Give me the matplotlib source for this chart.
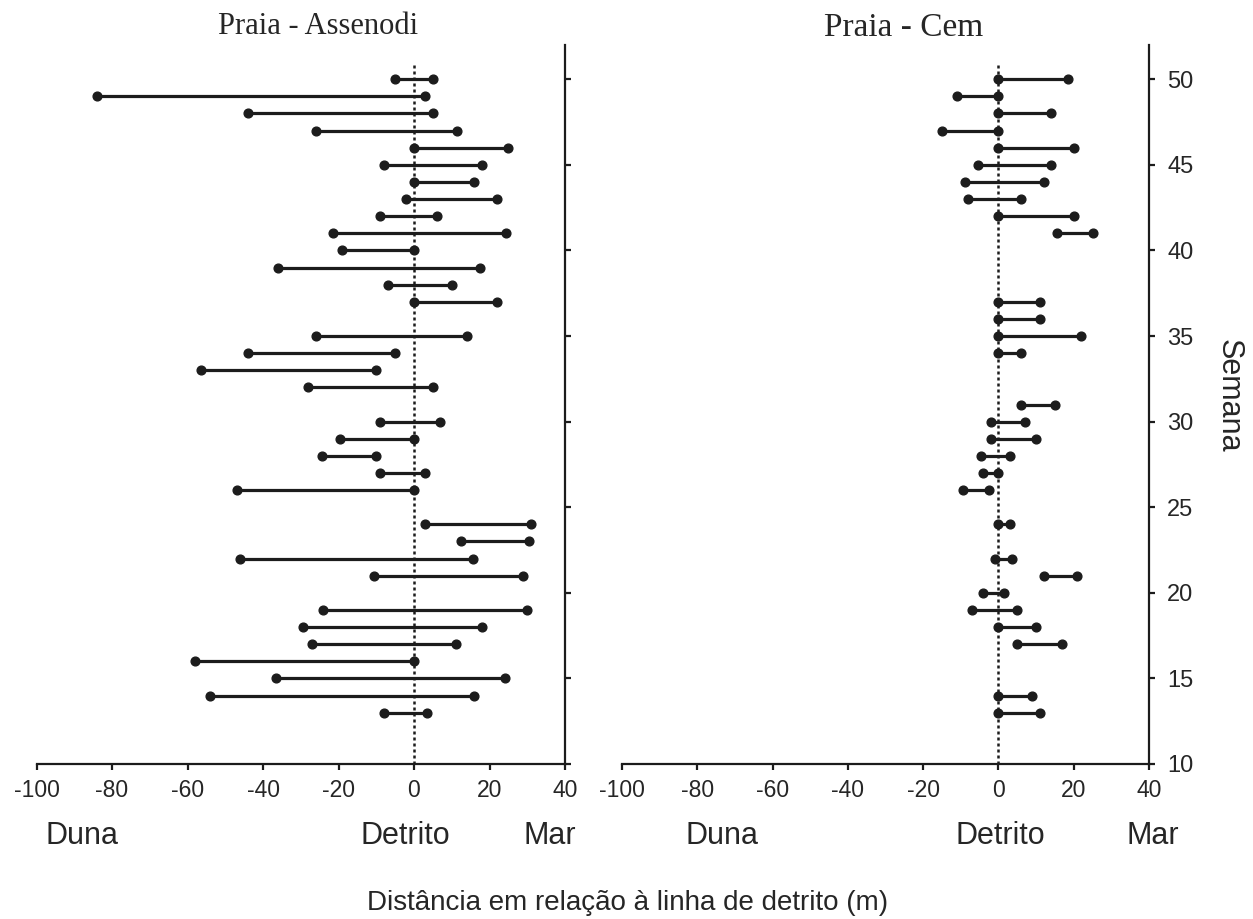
import matplotlib
matplotlib.use("Agg")
import matplotlib.pyplot as plt

# Weekly range of the wrack line relative to the reference detritus line (m)
weeks_assenodi = [50, 49, 48, 47, 46, 45, 44, 43, 42, 41, 40, 39, 38, 37,
                  35, 34, 33, 32, 30, 29, 28, 27, 26, 24, 23, 22, 21,
                  19, 18, 17, 16, 15, 14, 13]
start_assenodi = [-5, -84, -44, -26, 0, -8, 0, -2, -9, -21.5, -19, -36, -7, 0,
                  -26, -44, -56.5, -28, -9, -19.5, -24.5, -9, -47, 3, 12.5, -46, -10.5,
                  -24, -29.5, -27, -58, -36.5, -54, -8]
end_assenodi = [5, 3, 5, 11.5, 25, 18, 16, 22, 6, 24.5, 0, 17.5, 10, 22,
                14, -5, -10, 5, 7, 0, -10, 3, 0, 31, 30.5, 15.5, 29,
                30, 18, 11, 0, 24, 16, 3.5]

weeks_cem = [50, 49, 48, 47, 46, 45, 44, 43, 42, 41, 37, 36, 35, 34,
             31, 30, 29, 28, 27, 26, 24, 22, 21, 20, 19, 18, 17, 14, 13]
start_cem = [0, -11, 0, -15, 0, -5.5, -9, -8, 0, 15.5, 0, 0, 0, 0,
             6, -2, -2, -4.5, -4, -9.5, 0, -1, 12, -4, -7, 0, 5, 0, 0]
end_cem = [18.5, 0, 14, 0, 20, 14, 12, 6, 20, 25, 11, 11, 22, 6,
           15, 7, 10, 3, 0, -2.5, 3, 3.5, 21, 1.5, 5, 10, 17, 9, 11]

panel_titles = ["Praia - Assenodi", "Praia - Cem"]
x_ticks = [-100, -80, -60, -40, -20, 0, 20, 40]
y_ticks = [10, 15, 20, 25, 30, 35, 40, 45, 50]
zone_labels = ["Duna", "Detrito", "Mar"]
x_label = "Distância em relação à linha de detrito (m)"
y_label = "Semana"

INK = "#1c1c1c"
TXT = "#262626"
SANS = ["Liberation Sans", "DejaVu Sans"]
SERIF = ["Liberation Serif", "DejaVu Serif"]

plt.rcParams["font.family"] = SANS

W, H = 1253, 919
fig = plt.figure(figsize=(W / 100, H / 100), dpi=100)


def fx(px):
    return px / W


def fy(py):
    return 1 - py / H


ax_top, ax_bottom = 45, 764
ax_l = fig.add_axes([fx(36.5), fy(ax_bottom), fx(565 - 36.5), (ax_bottom - ax_top) / H])
ax_r = fig.add_axes([fx(622), fy(ax_bottom), fx(1149 - 622), (ax_bottom - ax_top) / H])

datasets = [(ax_l, weeks_assenodi, start_assenodi, end_assenodi),
            (ax_r, weeks_cem, start_cem, end_cem)]

for i, (ax, wk, s, e) in enumerate(datasets):
    ax.vlines(0, 10, 51, colors=INK, linestyles=(0, (1.2, 1.2)), linewidth=1.8, zorder=1)
    for w, a, b in zip(wk, s, e):
        ax.plot([a, b], [w, w], color=INK, linewidth=2.3, solid_capstyle="butt",
                marker="o", markersize=6.3, markerfacecolor=INK,
                markeredgecolor=INK, zorder=3)
    ax.set_xlim(-100, 40)
    ax.set_ylim(10, 52)
    ax.spines["top"].set_visible(False)
    ax.spines["left"].set_visible(False)
    for sp in ("bottom", "right"):
        ax.spines[sp].set_linewidth(1.6)
        ax.spines[sp].set_color(INK)
    ax.yaxis.tick_right()
    ax.set_xticks(x_ticks)
    ax.set_xticklabels([str(t) for t in x_ticks])
    ax.set_yticks(y_ticks)
    ax.tick_params(axis="x", direction="out", length=4, width=1.6, color=INK,
                   labelsize=16.5, labelcolor=TXT, pad=7)
    ax.tick_params(axis="y", direction="out", length=4, width=1.6, color=INK,
                   labelsize=17, labelcolor=TXT, pad=9)
    if i == 0:
        ax.tick_params(axis="y", labelright=False)
    else:
        ax.set_yticklabels([str(t) for t in y_ticks])
    ax.patch.set_alpha(0)

# Panel titles
fig.text(fx(318), fy(27), panel_titles[0], family=SERIF, fontsize=22,
         color=TXT, ha="center", va="center")
fig.text(fx(904), fy(28), panel_titles[1], family=SERIF, fontsize=24,
         color=TXT, ha="center", va="center")

# Zone labels under each panel: (left edge of Duna, centre of Detrito, right edge of Mar)
zone_x = [(45, 405, 576), (685, 1000, 1179)]
for xs in zone_x:
    for lab, px, ha in zip(zone_labels, xs, ["left", "center", "right"]):
        fig.text(fx(px), fy(836), lab, fontsize=22, color=TXT,
                 ha=ha, va="center")

fig.text(fx(367), fy(903), x_label, fontsize=20, color=TXT, ha="left", va="center")
fig.text(fx(1229), fy(396), y_label, fontsize=22, color=TXT, ha="center",
         va="center", rotation=270)

fig.savefig("out.png", dpi=100)
